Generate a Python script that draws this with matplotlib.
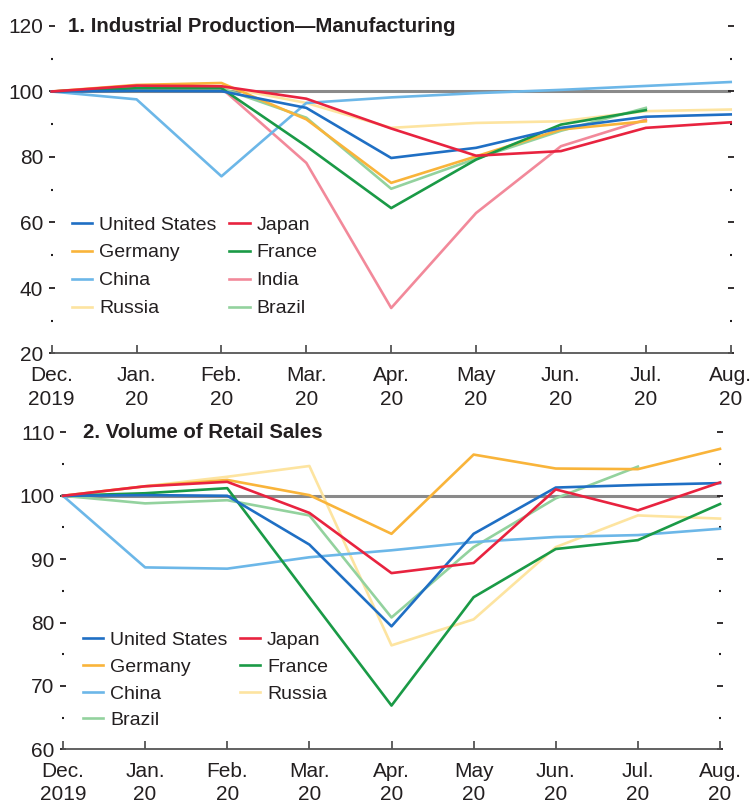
import matplotlib.pyplot as plt
from matplotlib.ticker import MultipleLocator
import numpy as np

nan = np.nan

months = ["Dec.\n2019", "Jan.\n20", "Feb.\n20", "Mar.\n20", "Apr.\n20",
          "May\n20", "Jun.\n20", "Jul.\n20", "Aug.\n20"]

# 1. Industrial production, manufacturing (Dec. 2019 = 100)
ip_us = [100, 100.2, 100.1, 95.0, 79.7, 82.8, 88.9, 92.3, 93.0]
ip_japan = [100, 101.8, 101.6, 97.8, 88.7, 80.4, 81.8, 88.9, 90.6]
ip_germany = [100, 102.0, 102.6, 91.5, 72.1, 80.2, 88.4, 90.9, nan]
ip_france = [100, 101.0, 101.0, 83.3, 64.4, 79.2, 89.9, 94.3, nan]
ip_china = [100, 97.6, 74.1, 96.5, 98.2, 99.5, 100.5, 101.7, 102.9]
ip_india = [100, 101.0, 101.0, 78.2, 33.9, 62.9, 83.3, 91.4, nan]
ip_russia = [100, 101.0, 101.5, 96.5, 88.9, 90.4, 90.9, 94.0, 94.5]
ip_brazil = [100, 101.0, 101.0, 92.0, 70.3, 79.5, 88.0, 95.0, nan]

# 2. Volume of retail sales (Dec. 2019 = 100)
rs_us = [100, 100.1, 100.0, 92.3, 79.4, 94.0, 101.3, 101.7, 102.0]
rs_japan = [100, 101.5, 102.2, 97.3, 87.8, 89.4, 101.0, 97.7, 102.1]
rs_germany = [100, 101.5, 102.5, 100.1, 94.0, 106.5, 104.3, 104.2, 107.4]
rs_france = [100, 100.4, 101.2, 84.0, 66.9, 84.0, 91.6, 93.0, 98.7]
rs_china = [100, 88.7, 88.5, 90.3, 91.4, 92.7, 93.5, 93.8, 94.8]
rs_russia = [100, 101.5, 103.0, 104.7, 76.4, 80.5, 91.9, 96.9, 96.4]
rs_brazil = [100, 98.8, 99.3, 96.9, 80.8, 91.9, 99.6, 104.6, nan]

colors = {
    'United States': '#1f6fc4',
    'Japan': '#e8233f',
    'Germany': '#f9b43a',
    'France': '#1a9a46',
    'China': '#6cb7e8',
    'India': '#f2899a',
    'Russia': '#fde4a0',
    'Brazil': '#93d29e',
}

plt.rcParams['font.family'] = ['Liberation Sans', 'DejaVu Sans']
TXT = '#231f20'
FS_TICK = 15
FS_TITLE = 14.7
FS_LEG = 14

fig = plt.figure(figsize=(7.52, 8.05), dpi=100)
W, H = 752.0, 805.0


def style_axes(ax, ylo, yhi, major, minor):
    ax.set_xlim(0, 8)
    ax.set_ylim(ylo, yhi)
    for s in ['top', 'left', 'right']:
        ax.spines[s].set_visible(False)
    ax.spines['bottom'].set_color('#555555')
    ax.spines['bottom'].set_linewidth(1.3)
    ax.set_xticks(range(9))
    ax.set_xticklabels(months, fontsize=FS_TICK, color=TXT, linespacing=1.3)
    ax.tick_params(axis='x', direction='in', length=6, width=1.3,
                   color='#555555', pad=9)
    ax.yaxis.set_major_locator(MultipleLocator(major))
    ax.yaxis.set_minor_locator(MultipleLocator(minor))
    ax.tick_params(axis='y', which='major', direction='inout', length=4,
                   width=1.3, color=TXT, labelsize=FS_TICK, labelcolor=TXT,
                   pad=4, right=True)
    ax.tick_params(axis='y', which='minor', direction='inout', length=1.5,
                   width=1.5, color=TXT, right=True)
    ax.axhline(100, color='#8a8a8a', lw=2.2, zorder=1)


def draw_lines(ax, series):
    for name, vals in series:
        ax.plot(range(9), vals, color=colors[name], lw=1.9, label=name,
                zorder=2, clip_on=False)


def add_legend(ax, order, anchor, spacing):
    h, l = ax.get_legend_handles_labels()
    hd = dict(zip(l, h))
    ax.legend([hd[k] for k in order], order, ncol=2, loc='upper left',
              bbox_to_anchor=anchor, frameon=False, fontsize=FS_LEG,
              handlelength=1.05, handletextpad=0.35, columnspacing=0.65,
              labelspacing=spacing, borderpad=0, borderaxespad=0,
              labelcolor=TXT)


# top panel
ax1 = fig.add_axes([51.7 / W, 1 - 353.5 / H, 679 / W, (353.5 - 26) / H])
style_axes(ax1, 20, 120, 20, 10)
top = [('Russia', ip_russia), ('Brazil', ip_brazil), ('India', ip_india),
       ('China', ip_china), ('Germany', ip_germany), ('France', ip_france),
       ('United States', ip_us), ('Japan', ip_japan)]
draw_lines(ax1, top)
ax1.text((68 - 51.7) / 679, 1.0, '1. Industrial Production\u2014Manufacturing',
         transform=ax1.transAxes, ha='left', va='center', fontsize=FS_TITLE,
         fontweight='bold', color=TXT)
add_legend(ax1, ['United States', 'Germany', 'China', 'Russia',
                 'Japan', 'France', 'India', 'Brazil'], (0.030, 0.420), 0.53)

# bottom panel
ax2 = fig.add_axes([63 / W, 1 - 749.3 / H, 657 / W, (749.3 - 432.4) / H])
style_axes(ax2, 60, 110, 10, 5)
bottom = [('Russia', rs_russia), ('Brazil', rs_brazil), ('China', rs_china),
          ('Germany', rs_germany), ('France', rs_france),
          ('United States', rs_us), ('Japan', rs_japan)]
draw_lines(ax2, bottom)
ax2.text((82.7 - 63) / 657, 1.0, '2. Volume of Retail Sales',
         transform=ax2.transAxes, ha='left', va='center', fontsize=FS_TITLE,
         fontweight='bold', color=TXT)
add_legend(ax2, ['United States', 'Germany', 'China', 'Brazil',
                 'Japan', 'France', 'Russia'], (0.030, 0.372), 0.47)

fig.savefig('out.png', dpi=100)
